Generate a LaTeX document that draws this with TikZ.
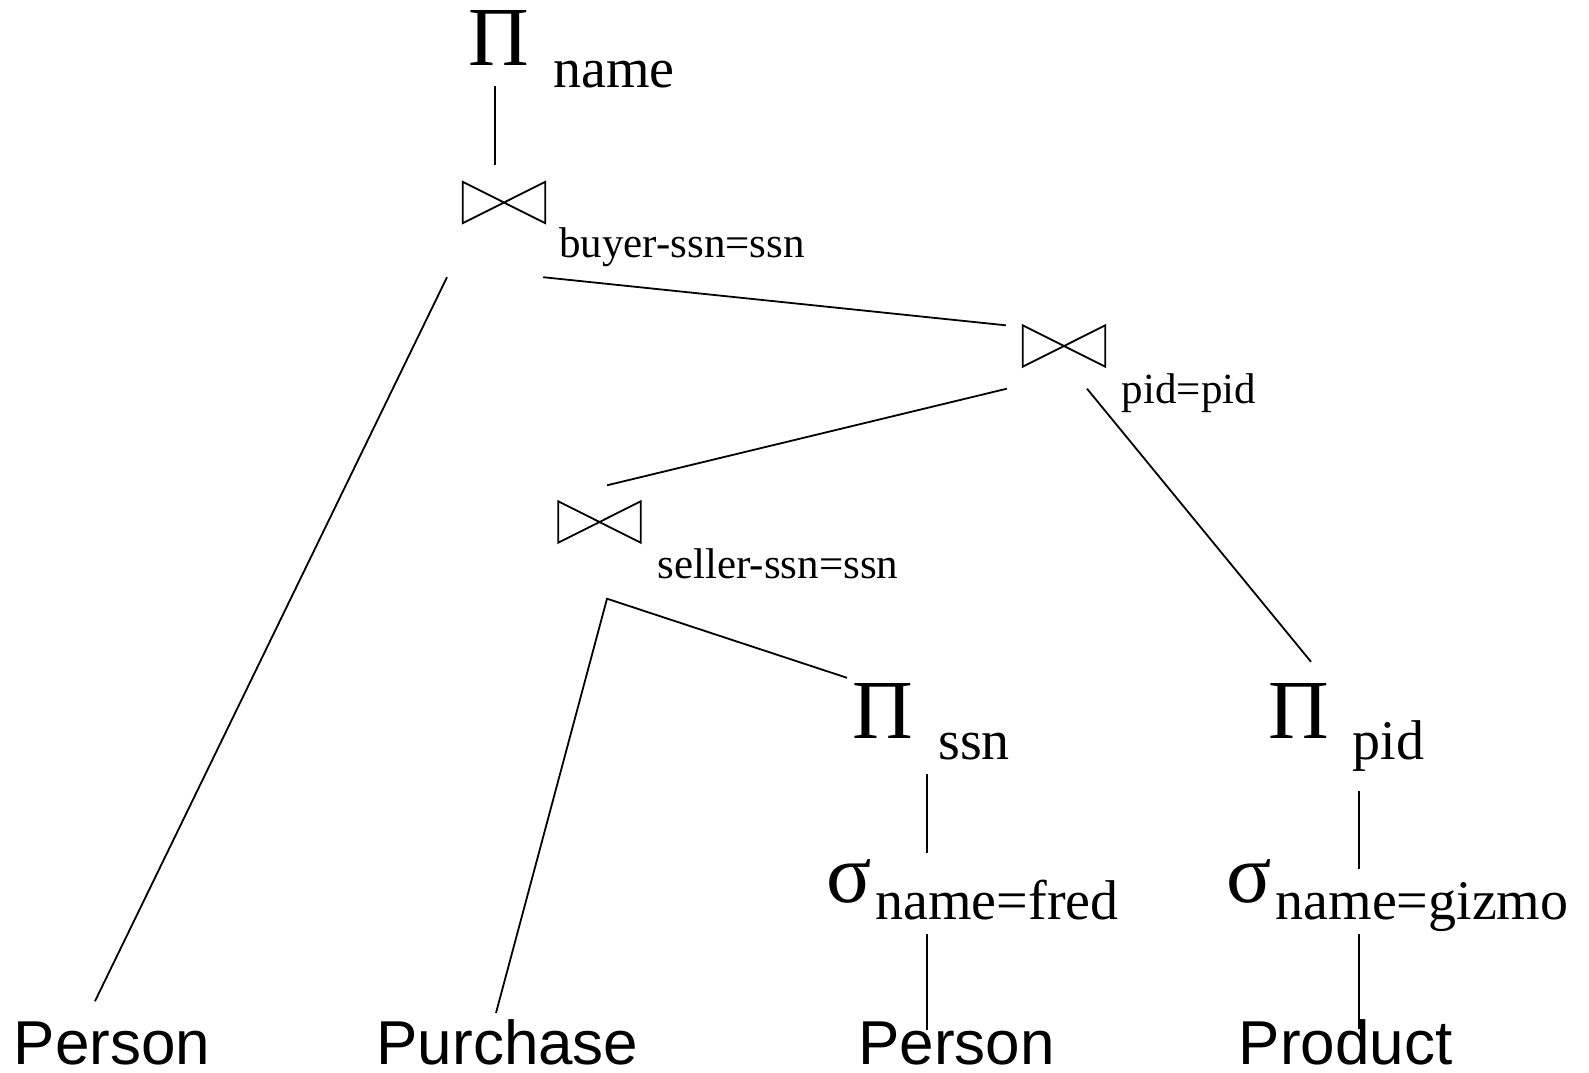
\documentclass[tikz,border=0pt]{standalone}
\usepackage{fontspec}
\setmainfont{Liberation Serif}
\newfontfamily\relfont{Liberation Sans}

\begin{document}
\begin{tikzpicture}[x=1pt,y=-1pt,
 op/.style={inner sep=0,anchor=base,font=\fontsize{84}{84}\selectfont},
 sub/.style={inner sep=0,anchor=base,font=\fontsize{56}{56}\selectfont},
 cond/.style={inner sep=0,anchor=base,font=\fontsize{43}{43}\selectfont},
 rel/.style={inner sep=0,anchor=base,font=\relfont\fontsize{62}{62}\selectfont},
 bowtie/.style={inner sep=0,minimum width=82pt,minimum height=41pt},
 e/.style={line width=1.8pt}]
\useasboundingbox (0,0) rectangle (1589,1072);
% operators
\node[op] (pname) at (498.5,65) {Π};
\node[sub] (pnamesub) at (614,87) {name};
\node[bowtie] (jbuyer) at (504,202.5) {};
\node[cond] (jbuyerlab) at (682,257) {buyer-ssn=ssn};
\node[bowtie] (jpid) at (1064,346) {};
\node[cond] (jpidlab) at (1189,403) {pid=pid};
\node[bowtie] (jseller) at (599.5,522) {};
\node[cond] (jsellerlab) at (778,578) {seller-ssn=ssn};
\node[op] (pssn) at (882.5,738) {Π};
\node[sub] (pssnsub) at (974,759) {ssn};
\node[op] (ppid) at (1299,738) {Π};
\node[sub] (ppidsub) at (1388.5,759) {pid};
\node[op] (sfred) at (849.5,902) {σ};
\node[sub] (sfredsub) at (997,919) {name=fred};
\node[op] (sgizmo) at (1249,902) {σ};
\node[sub] (sgizmosub) at (1422,919) {name=gizmo};
% relations
\node[rel] (personl) at (112,1064) {Person};
\node[rel] (purchase) at (507.5,1064) {Purchase};
\node[rel] (personm) at (956.5,1064) {Person};
\node[rel] (product) at (1345.5,1064) {Product};
\foreach \j in {jbuyer,jpid,jseller}
  \draw[e] (\j.north west)--(\j.south east)--(\j.north east)--(\j.south west)--cycle;
% tree edges
\draw[e] ([shift={(-3.5,21)}]pname.south)--([shift={(-9,-17)}]jbuyer.north);
\draw[e] ([shift={(-57,54)}]jbuyer.south)--([shift={(-17,-20)}]personl.north);
\draw[e] ([shift={(-2,54)}]jbuyer.south east)--([shift={(-17,0)}]jpid.north west);
\draw[e] ([shift={(-16,22)}]jpid.south west)--([shift={(7.5,-16)}]jseller.north);
\draw[e] ([shift={(23,22)}]jpid.south)--([shift={(12,-21)}]ppid.north);
\draw[e] ([shift={(-11.5,-6)}]purchase.north)--([shift={(7.5,56)}]jseller.south)
  --([shift={(-35.5,-5)}]pssn.north);
\draw[e] ([shift={(44.5,36)}]pssn.base)--([shift={(77.5,-49)}]sfred.base);
\draw[e] ([shift={(77.5,32)}]sfred.base)--([shift={(-29.5,9)}]personm.north);
\draw[e] ([shift={(60,53)}]ppid.base)--([shift={(110,-33)}]sgizmo.base);
\draw[e] ([shift={(110,32)}]sgizmo.base)--([shift={(13.5,10)}]product.north);
\end{tikzpicture}
\end{document}
